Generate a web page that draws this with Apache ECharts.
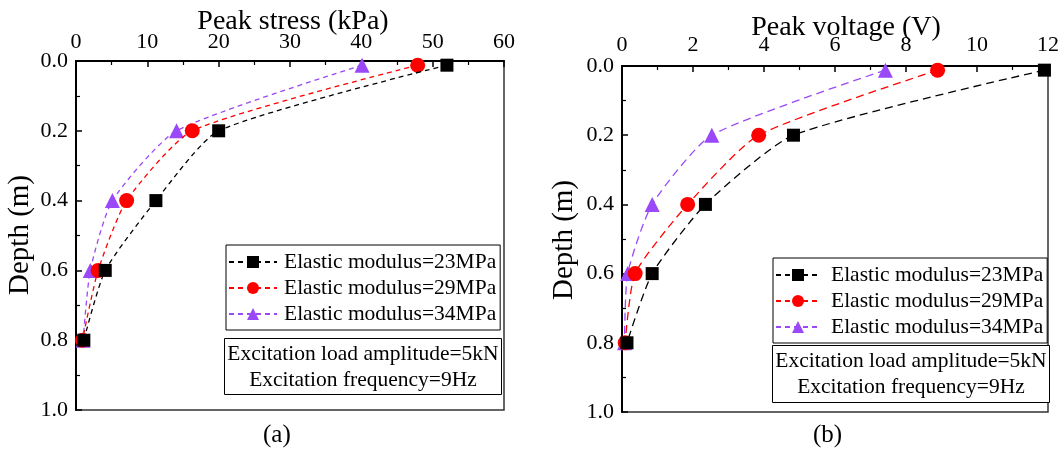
<!DOCTYPE html>
<html>
<head>
<meta charset="utf-8">
<script src="https://cdn.jsdelivr.net/npm/echarts@6/dist/echarts.min.js"></script>
<style>
  html, body { margin: 0; padding: 0; background: #fff; }
  #chart { width: 1059px; height: 457px; }
</style>
</head>
<body>
<div id="chart"></div>
<script>
// Depth levels shared by both panels (m)
const depths = [0.012, 0.2, 0.4, 0.6, 0.8];

// Panel (a): peak stress (kPa)
const stress23 = [52, 20, 11.2, 4.1, 1.1];
const stress29 = [47.9, 16.3, 7.1, 3.1, 0.9];
const stress34 = [40.1, 14.1, 5.1, 2.0, 1.0];

// Panel (b): peak voltage (V)
const volt23 = [11.9, 4.83, 2.35, 0.85, 0.14];
const volt29 = [8.89, 3.85, 1.85, 0.37, 0.09];
const volt34 = [7.42, 2.53, 0.85, 0.16, 0.07];

const seriesNames = ['Elastic modulus=23MPa', 'Elastic modulus=29MPa', 'Elastic modulus=34MPa'];
const colors = ['#000000', '#ff0000', '#9a48f8'];
const symbols = ['rect', 'circle', 'triangle'];
const symbolSizes = [13, 15, 15];

const depthTicks = [0.0, 0.2, 0.4, 0.6, 0.8, 1.0];

const FONT = '"Liberation Serif", "Times New Roman", serif';

function pairs(xs) {
  return xs.map((x, i) => [x, depths[i]]);
}

function makeSeries(panel, groups, dash) {
  return groups.map((vals, i) => ({
    name: seriesNames[i],
    type: 'line',
    xAxisIndex: panel,
    yAxisIndex: panel,
    data: pairs(vals),
    smooth: 0.2,
    symbol: symbols[i],
    symbolSize: symbolSizes[i],
    itemStyle: { color: colors[i] },
    lineStyle: { color: colors[i], width: 1.3, type: dash },
    z: 3 + (2 - i)
  }));
}

function xAxisCfg(grid, max, interval, labelMargin) {
  return {
    type: 'value', gridIndex: grid, position: 'top',
    min: 0, max: max, interval: interval,
    axisLine: { show: true, lineStyle: { color: '#000', width: 2 } },
    axisTick: { show: true, inside: true, length: 6, lineStyle: { color: '#000', width: 1.5 } },
    minorTick: { show: true, splitNumber: 2, length: 4, lineStyle: { color: '#000', width: 1.2 } },
    axisLabel: { fontFamily: FONT, fontSize: 22, color: '#000', margin: labelMargin },
    splitLine: { show: false }
  };
}

function yAxisCfg(grid) {
  return {
    type: 'value', gridIndex: grid, inverse: true,
    min: 0, max: 1, interval: 0.2,
    axisLine: { show: true, onZero: false, lineStyle: { color: '#000', width: 2 } },
    axisTick: { show: true, inside: true, length: 6, lineStyle: { color: '#000', width: 1.5 } },
    minorTick: { show: true, splitNumber: 2, length: 4, lineStyle: { color: '#000', width: 1.2 } },
    axisLabel: {
      fontFamily: FONT, fontSize: 22, color: '#000', margin: 8,
      formatter: v => depthTicks.find(t => Math.abs(t - v) < 1e-6).toFixed(1)
    },
    splitLine: { show: false }
  };
}

function legendCfg(left, top, iconW, textPad) {
  return {
    show: true,
    left: left, top: top,
    orient: 'vertical',
    data: seriesNames,
    itemWidth: iconW, itemHeight: 15, itemGap: 4,
    padding: [6, 4, 5, 2],
    borderColor: '#000', borderWidth: 1,
    backgroundColor: '#fff',
    textStyle: { fontFamily: FONT, fontSize: 21.5, lineHeight: 22, color: '#000', padding: [0, 0, 0, textPad] }
  };
}

function noteBox(left, top, w, h) {
  return {
    type: 'group', left: left, top: top,
    children: [
      { type: 'rect', shape: { x: 0, y: 0, width: w, height: h },
        style: { fill: '#fff', stroke: '#000', lineWidth: 1 } },
      { type: 'text', x: w / 2, y: 16,
        style: { text: 'Excitation load amplitude=5kN', font: '21.5px ' + FONT, fill: '#000',
                 textAlign: 'center', textVerticalAlign: 'middle' } },
      { type: 'text', x: w / 2, y: 42,
        style: { text: 'Excitation frequency=9Hz', font: '21.5px ' + FONT, fill: '#000',
                 textAlign: 'center', textVerticalAlign: 'middle' } }
    ]
  };
}

function axisTitle(text, x, y) {
  return {
    type: 'text', x: x, y: y,
    style: { text: text, font: '28px ' + FONT, fill: '#000', textAlign: 'center', textVerticalAlign: 'middle' }
  };
}

const chart = echarts.init(document.getElementById('chart'), null, { renderer: 'canvas' });

chart.setOption({
  animation: false,
  backgroundColor: '#fff',
  grid: [
    { left: 76, top: 61, width: 428, height: 349, show: true, borderColor: '#333', borderWidth: 1.5,
      backgroundColor: 'transparent', containLabel: false, outerBoundsMode: 'none' },
    { left: 622, top: 66, width: 426, height: 346, show: true, borderColor: '#333', borderWidth: 1.5,
      backgroundColor: 'transparent', containLabel: false, outerBoundsMode: 'none' }
  ],
  xAxis: [
    xAxisCfg(0, 60, 10, 8),
    xAxisCfg(1, 12, 2, 10)
  ],
  yAxis: [yAxisCfg(0), yAxisCfg(1)],
  legend: [
    legendCfg(226, 245, 48, 2),
    legendCfg(773, 258, 44, 6)
  ],
  series: [].concat(
    makeSeries(0, [stress23, stress29, stress34], [5, 4]),
    makeSeries(1, [volt23, volt29, volt34], [8, 5])
  ),
  graphic: [
    axisTitle('Peak stress (kPa)', 293, 22),
    axisTitle('Peak voltage (V)', 846, 28),
    { type: 'text', left: 6, top: 175, rotation: Math.PI / 2,
      style: { text: 'Depth (m)', font: '29px ' + FONT, fill: '#000' } },
    { type: 'text', left: 550, top: 180, rotation: Math.PI / 2,
      style: { text: 'Depth (m)', font: '29px ' + FONT, fill: '#000' } },
    { type: 'text', left: 263, top: 423, style: { text: '(a)', font: '25px ' + FONT, fill: '#000' } },
    { type: 'text', left: 813, top: 423, style: { text: '(b)', font: '25px ' + FONT, fill: '#000' } },
    noteBox(224, 338, 277, 56),
    noteBox(772, 345, 277, 57)
  ]
});
</script>
</body>
</html>
